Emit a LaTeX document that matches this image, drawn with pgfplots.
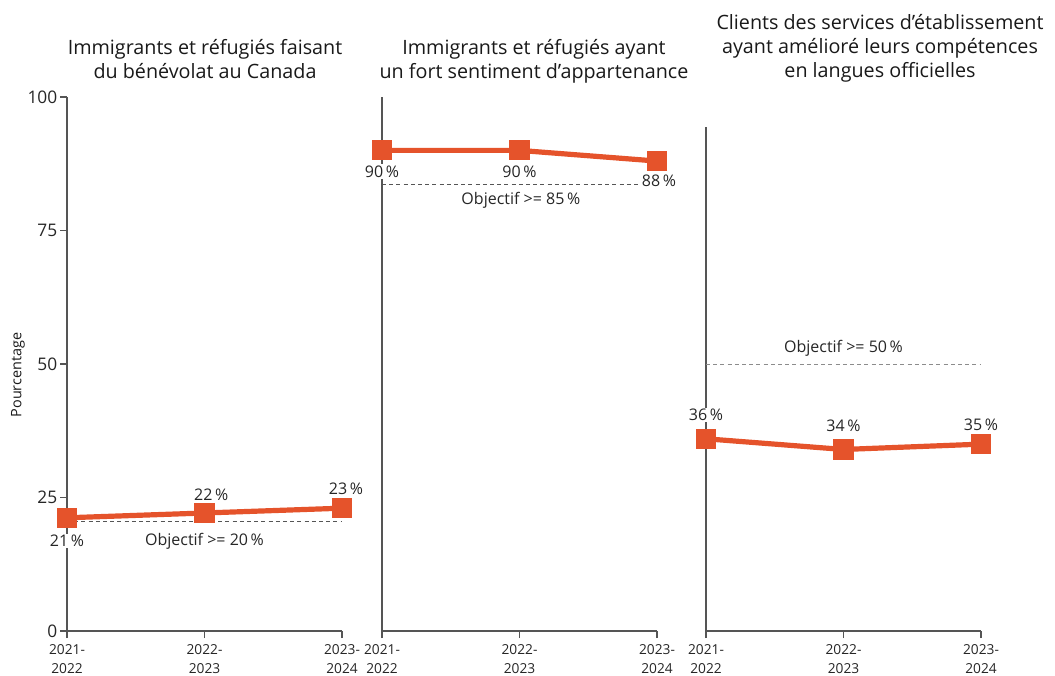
\documentclass[border=0pt]{standalone}
\usepackage{fontspec}
\setmainfont{Open Sans}
\usepackage{pgfplots}
\pgfplotsset{compat=1.18}
\definecolor{lineor}{HTML}{E5532B}
\definecolor{axgrey}{HTML}{555555}
\definecolor{dashgrey}{HTML}{555555}
\begin{document}
\begin{tikzpicture}
\pgfplotsset{
  panel/.style={
    set layers,
    scale only axis, width=206.25pt,
    xmin=0, xmax=2, ymin=0,
    axis lines=left, axis line style={-, draw=axgrey, line width=0.9pt},
    tick align=outside, major tick length=5.25pt,
    tick style={draw=axgrey, line width=0.9pt},
    xtick={0,1,2},
    xticklabels={{2021-\\2022},{2022-\\2023},{2023-\\2024}},
    x tick label style={align=center, font=\fontsize{10.3}{14.5}\selectfont, text=black!85, yshift=-1pt},
    y tick label style={font=\fontsize{13}{14}\selectfont, text=black!85, xshift=1.5pt},
    /pgf/number format/assume math mode=true,
    clip=false,
  },
}
\tikzset{
  series/.style={draw=lineor, line width=3.9pt, mark=square*, mark size=5.6pt, mark options={fill=lineor, draw=none}},
  target/.style={draw=dashgrey, line width=0.7pt, dash pattern=on 3pt off 2.4pt},
  lab/.style={font=\fontsize{12}{14}\selectfont, text=black!85, inner sep=1pt},
}
% Panel 1
\begin{axis}[panel, at={(50.25pt,33pt)}, anchor=south west, height=400.5pt, ymax=100,
  ytick={0,25,50,75,100}]
\addplot[target] coordinates {(0,20.6) (2,20.6)};
\addplot[series] coordinates {(0,21.2) (1,22.1) (2,23.0)};
\node[lab, fill=white] at (axis cs:0,21.2) [yshift=-17.25pt] {21\,\%};
\node[lab] at (axis cs:1,22.1) [yshift=13.5pt, xshift=5pt] {22\,\%};
\node[lab] at (axis cs:2,23.0) [yshift=14.25pt, xshift=3pt] {23\,\%};
\node[lab] at (axis cs:1,16.85) {Objectif >= 20\,\%};
\end{axis}
% Panel 2
\begin{axis}[panel, at={(286.5pt,33pt)}, anchor=south west, height=400.5pt, ymax=100,
  ytick=\empty]
\addplot[target] coordinates {(0,83.7) (2,83.7)};
\addplot[series] coordinates {(0,90) (1,90) (2,88)};
\node[lab, fill=white] at (axis cs:0,90) [yshift=-15.75pt] {90\,\%};
\node[lab, fill=white] at (axis cs:1,90) [yshift=-15.75pt] {90\,\%};
\node[lab, fill=white] at (axis cs:2,88) [yshift=-15pt, xshift=1.5pt] {88\,\%};
\node[lab] at (axis cs:1.01,80.7) {Objectif >= 85\,\%};
\end{axis}
% Panel 3
\begin{axis}[panel, at={(529.5pt,33pt)}, anchor=south west, height=378pt, ymax=94.4,
  ytick=\empty]
\addplot[target, draw=black!45] coordinates {(0,50) (2,50)};
\addplot[series] coordinates {(0,36) (1,34) (2,35)};
\node[lab, fill=white] at (axis cs:0,36) [yshift=18pt] {36\,\%};
\node[lab] at (axis cs:1,34) [yshift=18pt] {34\,\%};
\node[lab] at (axis cs:2,35) [yshift=14.25pt] {35\,\%};
\node[lab] at (axis cs:1,53) {Objectif >= 50\,\%};
\end{axis}
% titles
\begin{scope}[x=0.75pt,y=0.75pt]
\tikzset{ttl/.style={anchor=base, font=\fontsize{14.8}{18}\selectfont, text=black!90, inner sep=0pt}}
\node[ttl] at (205,675-55) {Immigrants et réfugiés faisant};
\node[ttl] at (205,675-79) {du bénévolat au Canada};
\node[ttl] at (534,675-55) {Immigrants et réfugiés ayant};
\node[ttl] at (534,675-79) {un fort sentiment d’appartenance};
\node[ttl] at (880,675-30) {Clients des services d’établissement};
\node[ttl] at (880,675-54) {ayant amélioré leurs compétences};
\node[ttl] at (880,675-78) {en langues officielles};
\node[rotate=90, font=\fontsize{10.8}{12}\selectfont, text=black!90] at (18,675-375) {Pourcentage};
\end{scope}
\pgfresetboundingbox
\useasboundingbox (0pt,0pt) rectangle (791.25pt,506.25pt);
\end{tikzpicture}
\end{document}
